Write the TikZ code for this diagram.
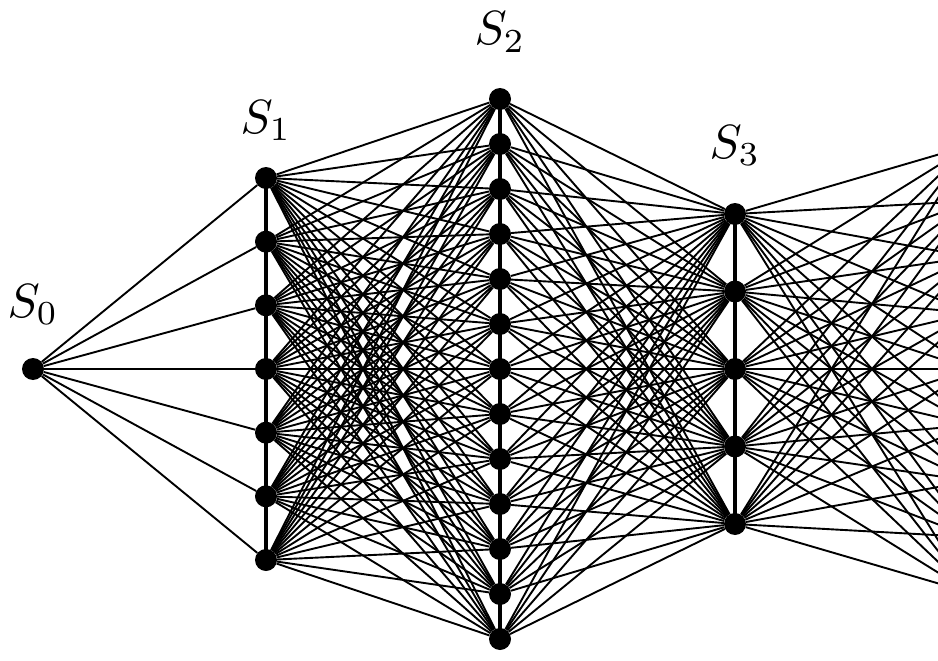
\documentclass[tikz,border=0pt]{standalone}
\begin{document}
\begin{tikzpicture}[x=1pt,y=-1pt,
  dot/.style={circle,fill=black,inner sep=0pt,minimum size=22pt},
  edge/.style={line width=1.9pt,black},
  colline/.style={line width=3.2pt,black},
  lab/.style={anchor=base,scale=4.8,inner sep=0pt}]
\useasboundingbox (0,0) rectangle (938,661);
\clip (0,0) rectangle (938,661);
% nodes
\node[dot] (s0) at (33,369) {};
\foreach \i in {1,...,7} \node[dot] (s1-\i) at (266,{178+(\i-1)*63.667}) {};
\foreach \i in {1,...,13} \node[dot] (s2-\i) at (500,{99+(\i-1)*45}) {};
\foreach \i in {1,...,5} \node[dot] (s3-\i) at (735,{214+(\i-1)*77.5}) {};
\foreach \i in {1,...,9} \coordinate (s4-\i) at (971,{145+(\i-1)*56});
% column lines
\draw[colline] (s1-1.center) -- (s1-7.center);
\draw[colline] (s2-1.center) -- (s2-13.center);
\draw[colline] (s3-1.center) -- (s3-5.center);
% edges
\foreach \i in {1,...,7} \draw[edge] (s0) -- (s1-\i);
\foreach \i in {1,...,7} \foreach \j in {1,...,13} \draw[edge] (s1-\i) -- (s2-\j);
\foreach \i in {1,...,13} \foreach \j in {1,...,5} \draw[edge] (s2-\i) -- (s3-\j);
\foreach \i in {1,...,5} \foreach \j in {1,...,9} \draw[edge] (s3-\i) -- (s4-\j);
% labels
\node[lab] (l0) at (33,317) {$S_0$};
\node[lab] (l1) at (266,133) {$S_1$};
\node[lab] (l2) at (500,45) {$S_2$};
\node[lab] (l3) at (735,158) {$S_3$};
\end{tikzpicture}
\end{document}
